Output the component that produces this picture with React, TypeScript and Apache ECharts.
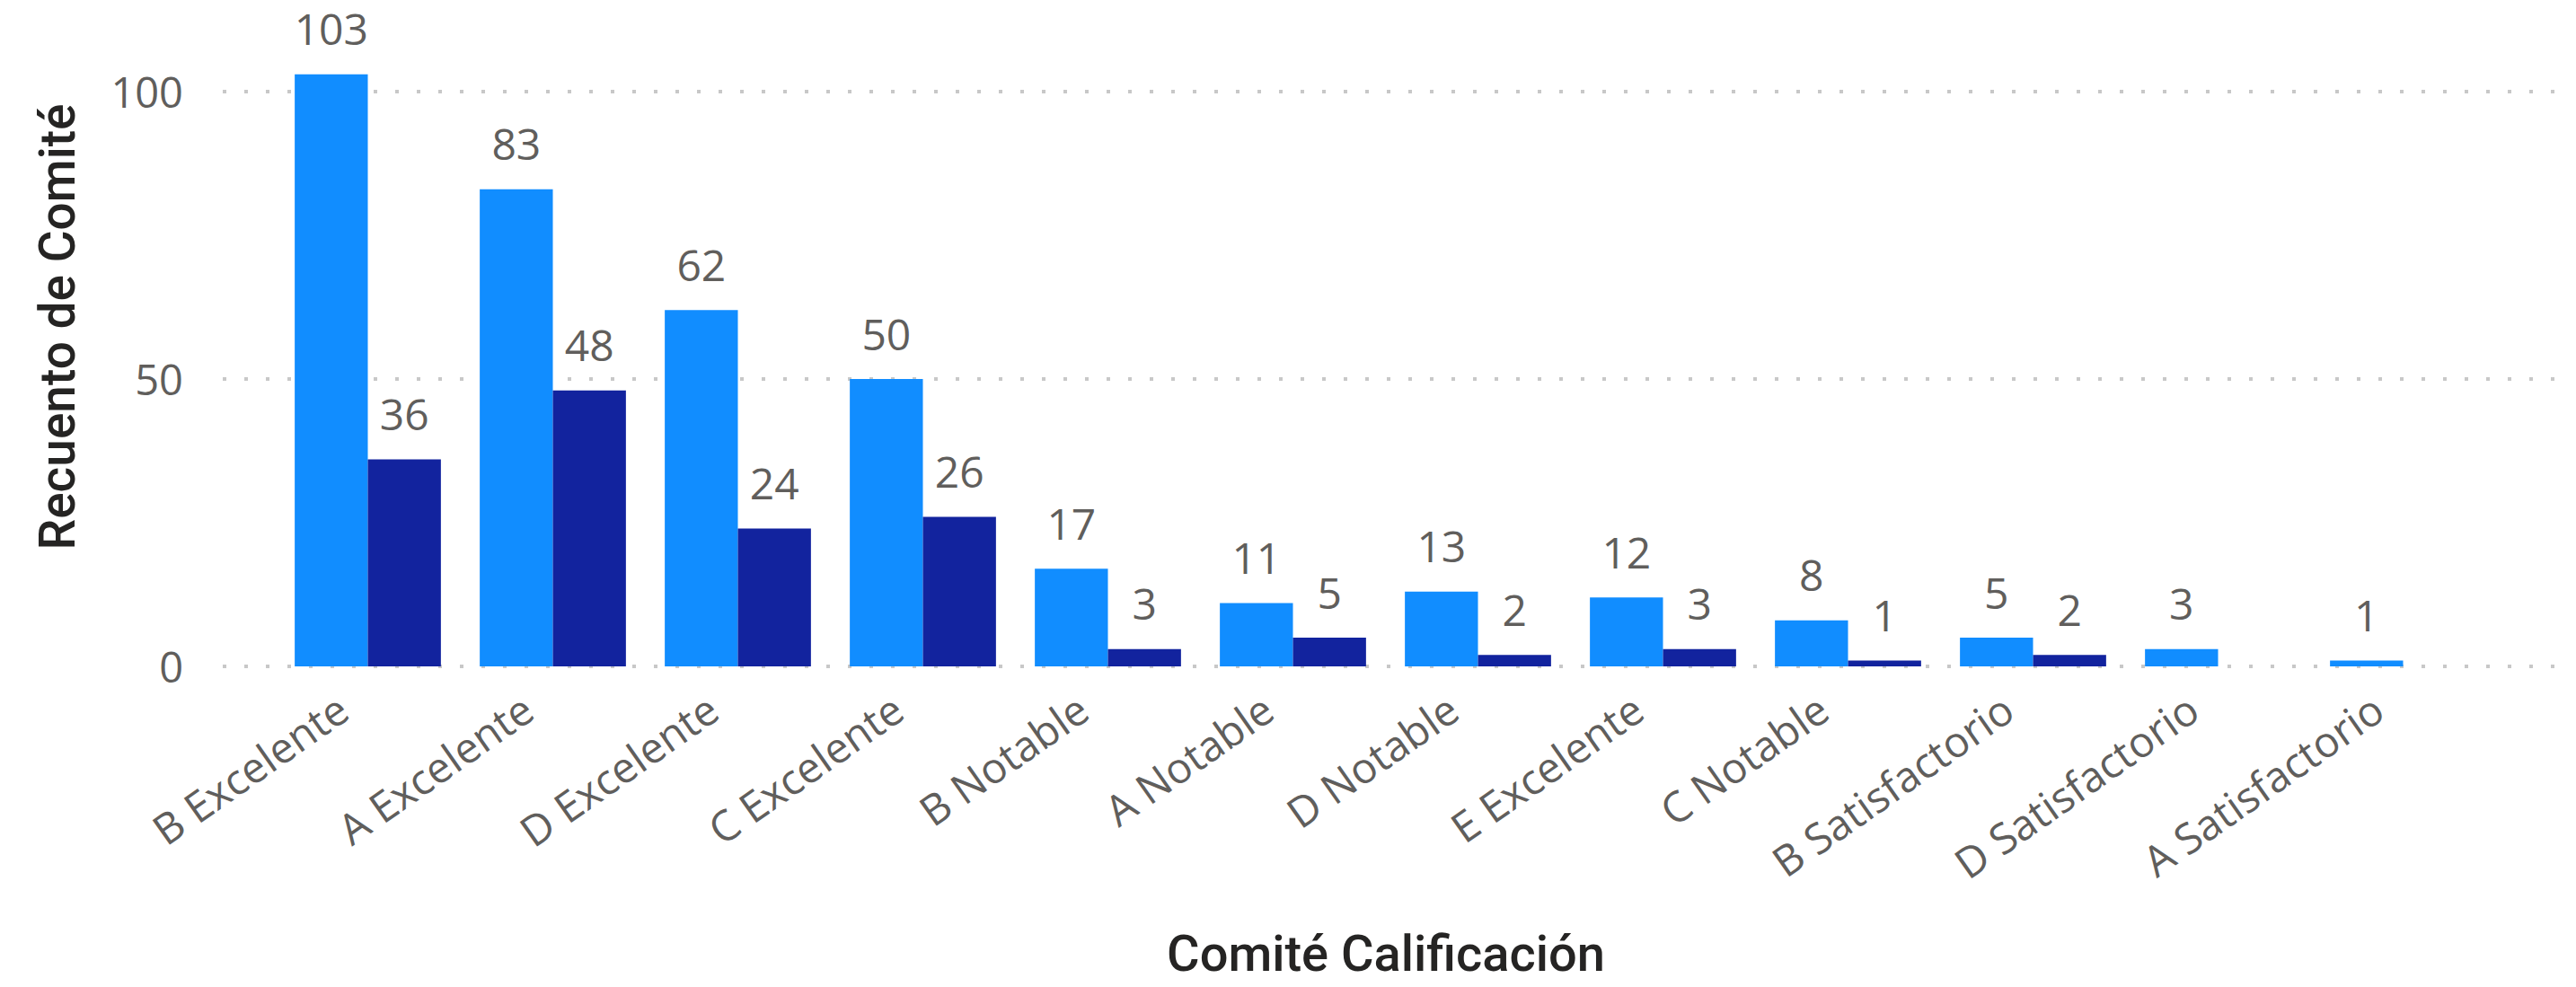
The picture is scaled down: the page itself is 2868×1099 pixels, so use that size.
import React, { useEffect, useRef } from "react";
import * as echarts from "echarts";

const categories = [
  "B Excelente",
  "A Excelente",
  "D Excelente",
  "C Excelente",
  "B Notable",
  "A Notable",
  "D Notable",
  "E Excelente",
  "C Notable",
  "B Satisfactorio",
  "D Satisfactorio",
  "A Satisfactorio",
];
const serieClara = [103, 83, 62, 50, 17, 11, 13, 12, 8, 5, 3, 1];
const serieOscura = [36, 48, 24, 26, 3, 5, 2, 3, 1, 2, null, null];
const yMin = 0;
const yMax = 100;
const yInterval = 50;
const yTitle = "Recuento de Comité";
const xTitle = "Comité Calificación";

const LABEL_FONT = "'Segoe UI', 'Open Sans', sans-serif";
const TITLE_FONT = "Roboto, 'DejaVu Sans', sans-serif";
const GRAY = "#605E5C";

export default function App() {
  const ref = useRef<HTMLDivElement>(null);
  useEffect(() => {
    if (!ref.current) return;
    const chart = echarts.init(ref.current, undefined, { renderer: "svg" });
    const H = 1099;
    const axisY = 742;
    const topY = 102;
    const barLabel = {
      show: true,
      position: "top",
      distance: 27,
      fontFamily: LABEL_FONT,
      fontSize: 48,
      color: GRAY,
    };
    chart.setOption({
      animation: false,
      backgroundColor: "#ffffff",
      grid: [
        { left: 248, right: 23, top: topY, bottom: H - axisY, containLabel: false },
        { left: 306.5, right: 89.5, top: topY, bottom: H - axisY, containLabel: false },
      ],
      xAxis: [
        {
          gridIndex: 0,
          type: "value",
          show: false,
          min: 0,
          max: 1,
        },
        {
          gridIndex: 1,
          type: "category",
          data: categories,
          axisLine: { show: false },
          axisTick: { show: false },
          axisLabel: {
            rotate: 35,
            interval: 0,
            margin: 22,
            padding: [0, 34, 0, 0],
            fontFamily: LABEL_FONT,
            fontSize: 47,
            color: GRAY,
          },
        },
      ],
      yAxis: [
        {
          gridIndex: 0,
          type: "value",
          min: yMin,
          max: yMax,
          interval: yInterval,
          axisLine: { show: false },
          axisTick: { show: false },
          axisLabel: {
            margin: 44,
            fontFamily: LABEL_FONT,
            fontSize: 47,
            color: GRAY,
          },
          splitLine: {
            show: true,
            lineStyle: { color: "#C8C8C8", width: 4, type: [4, 20] },
          },
        },
        {
          gridIndex: 1,
          type: "value",
          min: yMin,
          max: yMax,
          interval: yInterval,
          show: false,
          splitLine: { show: false },
        },
      ],
      series: [
        {
          name: "Serie 1",
          type: "bar",
          xAxisIndex: 1,
          yAxisIndex: 1,
          data: serieClara,
          clip: false,
          barGap: "0%",
          barCategoryGap: "21%",
          itemStyle: { color: "#118DFF" },
          label: barLabel,
        },
        {
          name: "Serie 2",
          type: "bar",
          xAxisIndex: 1,
          yAxisIndex: 1,
          data: serieOscura,
          clip: false,
          barGap: "0%",
          barCategoryGap: "21%",
          itemStyle: { color: "#12239E" },
          label: barLabel,
        },
      ],
      graphic: [
        {
          type: "text",
          x: 64,
          y: 364,
          rotation: Math.PI / 2,
          style: {
            text: yTitle,
            fontFamily: TITLE_FONT,
            fontSize: 55,
            fontWeight: 500,
            fill: "#252423",
            align: "center",
            verticalAlign: "middle",
          },
        },
        {
          type: "text",
          x: 1543,
          y: 1062,
          style: {
            text: xTitle,
            fontFamily: TITLE_FONT,
            fontSize: 56,
            fontWeight: 500,
            fill: "#252423",
            align: "center",
            verticalAlign: "middle",
          },
        },
      ],
    });
    return () => chart.dispose();
  }, []);
  return (
    <div
      ref={ref}
      style={{ position: "absolute", left: 0, top: 0, width: 2868, height: 1099 }}
    />
  );
}
